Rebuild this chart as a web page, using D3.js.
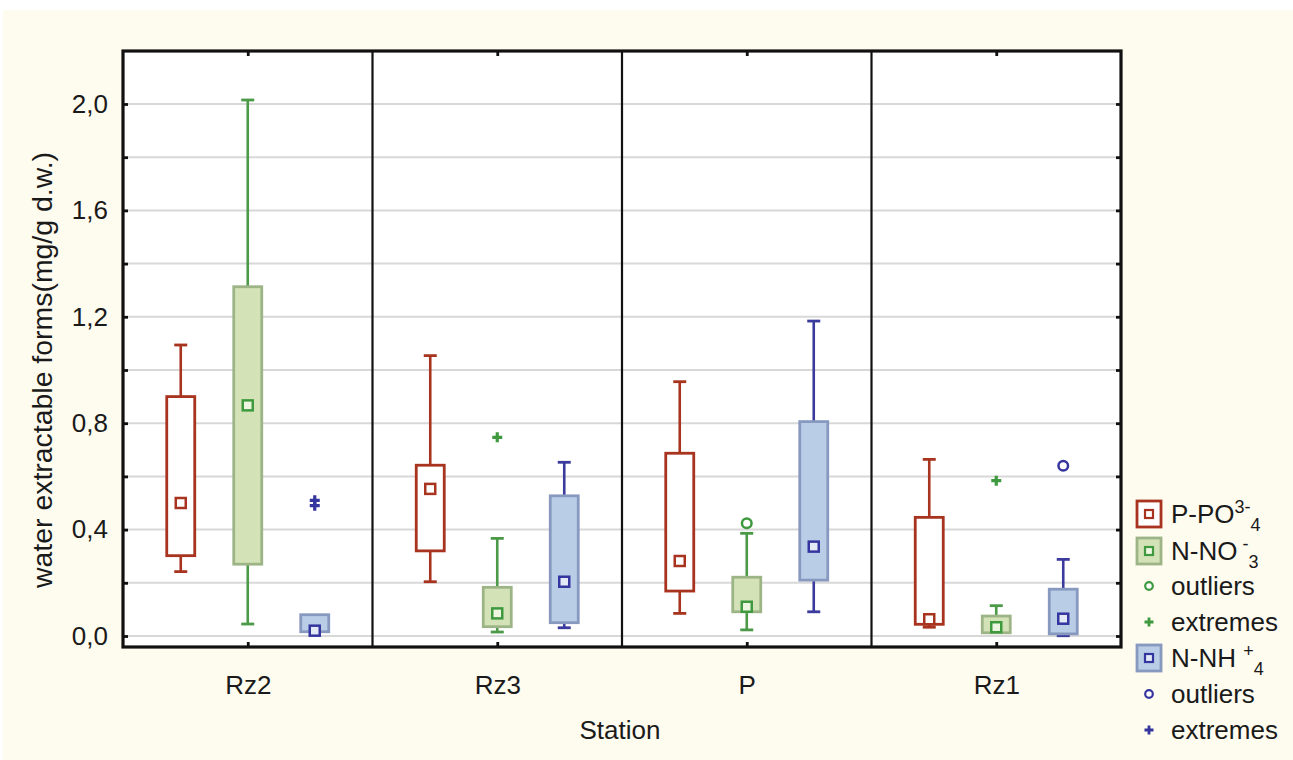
<!DOCTYPE html>
<html>
<head>
<meta charset="utf-8">
<script src="https://cdn.jsdelivr.net/npm/d3@7/dist/d3.min.js"></script>
<style>
  html, body { margin: 0; padding: 0; background: #ffffff; }
  svg { display: block; }
  text { font-family: "Liberation Sans", Arial, Helvetica, sans-serif; fill: #1a1a1a; }
</style>
</head>
<body>
<svg id="chart" width="1293" height="760"></svg>
<script>
// ---------------- data ----------------
const categories = ["Rz2", "Rz3", "P", "Rz1"];
const seriesNames = ["P-PO4", "N-NO3", "N-NH4"];
const yTickValues = [0, 0.2, 0.4, 0.6, 0.8, 1.0, 1.2, 1.4, 1.6, 1.8, 2.0];
const yLabelValues = [0, 0.4, 0.8, 1.2, 1.6, 2.0];

const po4Min    = [0.242, 0.204, 0.085, 0.033];
const po4Q1     = [0.302, 0.320, 0.169, 0.044];
const po4Median = [0.500, 0.553, 0.282, 0.063];
const po4Q3     = [0.900, 0.642, 0.687, 0.446];
const po4Max    = [1.094, 1.054, 0.956, 0.664];
const po4Outliers = [[], [], [], []];
const po4Extremes = [[], [], [], []];

const no3Min    = [0.045, 0.015, 0.023, 0.012];
const no3Q1     = [0.270, 0.035, 0.091, 0.012];
const no3Median = [0.867, 0.085, 0.110, 0.033];
const no3Q3     = [1.313, 0.183, 0.221, 0.075];
const no3Max    = [2.015, 0.367, 0.386, 0.114];
const no3Outliers = [[], [], [0.424], []];
const no3Extremes = [[], [0.747], [], [0.584]];

const nh4Min    = [0.016, 0.031, 0.091, 0.001];
const nh4Q1     = [0.016, 0.050, 0.210, 0.008];
const nh4Median = [0.020, 0.204, 0.336, 0.065];
const nh4Q3     = [0.080, 0.527, 0.806, 0.176];
const nh4Max    = [0.080, 0.653, 1.184, 0.288];
const nh4Outliers = [[], [], [], [0.640]];
const nh4Extremes = [[0.510, 0.490], [], [], []];

// ---------------- styles ----------------
const styles = [
  { boxFill: "#ffffff", boxStroke: "#a8331f", whisker: "#a8331f", mark: "#a8331f", markFill: "#ffffff" },
  { boxFill: "#d4e3b7", boxStroke: "#9db487", whisker: "#4b9a47", mark: "#3f9a3f", markFill: "#eef6e2" },
  { boxFill: "#b9cde6", boxStroke: "#8799bf", whisker: "#3b3b9d", mark: "#35359f", markFill: "#e3eaf6" }
];

const series = [
  { min: po4Min, q1: po4Q1, med: po4Median, q3: po4Q3, max: po4Max, out: po4Outliers, ext: po4Extremes },
  { min: no3Min, q1: no3Q1, med: no3Median, q3: no3Q3, max: no3Max, out: no3Outliers, ext: no3Extremes },
  { min: nh4Min, q1: nh4Q1, med: nh4Median, q3: nh4Q3, max: nh4Max, out: nh4Outliers, ext: nh4Extremes }
];

// ---------------- layout ----------------
const svg = d3.select("#chart");
const W = 1293, H = 760;
const plot = { left: 123, right: 1121, top: 51, bottom: 647 };
const FS = 26;

svg.append("rect").attr("x", 3).attr("y", 10).attr("width", W - 3).attr("height", H - 10).attr("fill", "#fefbef");

const x = d3.scaleBand().domain(categories).range([plot.left, plot.right]).padding(0);
const sub = d3.scalePoint().domain(seriesNames).range([-67, 67]);
const y = d3.scaleLinear().domain([-0.04135, 2.1992]).range([plot.bottom, plot.top]);
const boxW = 28;
const capW = 13;

svg.append("rect").attr("x", plot.left).attr("y", plot.top)
  .attr("width", plot.right - plot.left).attr("height", plot.bottom - plot.top).attr("fill", "#ffffff");

// gridlines
svg.append("g").selectAll("line").data(yTickValues).join("line")
  .attr("x1", plot.left).attr("x2", plot.right)
  .attr("y1", d => y(d)).attr("y2", d => y(d))
  .attr("stroke", "#d8d8d8").attr("stroke-width", 2);

// separators
svg.append("g").selectAll("line").data(categories.slice(1)).join("line")
  .attr("x1", d => x(d)).attr("x2", d => x(d))
  .attr("y1", plot.top).attr("y2", plot.bottom)
  .attr("stroke", "#111").attr("stroke-width", 2.2);

// boxes
const fmt = v => d3.format(".1f")(v).replace(".", ",");
series.forEach((s, si) => {
  const st = styles[si];
  const g = svg.append("g");
  categories.forEach((c, ci) => {
    const cx = x(c) + x.bandwidth() / 2 + sub(seriesNames[si]);
    // whiskers
    if (s.max[ci] > s.q3[ci]) {
      g.append("line").attr("x1", cx).attr("x2", cx).attr("y1", y(s.q3[ci])).attr("y2", y(s.max[ci]))
        .attr("stroke", st.whisker).attr("stroke-width", 2.6);
      g.append("line").attr("x1", cx - capW / 2).attr("x2", cx + capW / 2).attr("y1", y(s.max[ci])).attr("y2", y(s.max[ci]))
        .attr("stroke", st.whisker).attr("stroke-width", 2.8);
    }
    if (s.min[ci] < s.q1[ci]) {
      g.append("line").attr("x1", cx).attr("x2", cx).attr("y1", y(s.q1[ci])).attr("y2", y(s.min[ci]))
        .attr("stroke", st.whisker).attr("stroke-width", 2.6);
      g.append("line").attr("x1", cx - capW / 2).attr("x2", cx + capW / 2).attr("y1", y(s.min[ci])).attr("y2", y(s.min[ci]))
        .attr("stroke", st.whisker).attr("stroke-width", 2.8);
    }
    // box
    g.append("rect").attr("x", cx - boxW / 2).attr("width", boxW)
      .attr("y", y(s.q3[ci])).attr("height", Math.max(1, y(s.q1[ci]) - y(s.q3[ci])))
      .attr("fill", st.boxFill).attr("stroke", st.boxStroke).attr("stroke-width", 2.8);
    // median marker
    g.append("rect").attr("x", cx - 5).attr("y", y(s.med[ci]) - 5).attr("width", 10).attr("height", 10)
      .attr("fill", st.markFill).attr("stroke", st.mark).attr("stroke-width", 2.5);
    // outliers
    s.out[ci].forEach(v => {
      g.append("circle").attr("cx", cx).attr("cy", y(v)).attr("r", 4.8)
        .attr("fill", "#fff").attr("stroke", st.mark).attr("stroke-width", 2.5);
    });
    // extremes
    s.ext[ci].forEach(v => {
      g.append("path").attr("d", `M${cx - 5},${y(v)}h10M${cx},${y(v) - 5}v10`)
        .attr("stroke", st.mark).attr("stroke-width", 3.2);
    });
  });
});

// axes (inward ticks)
const leftAxis = d3.axisLeft(y).tickValues(yTickValues).tickSize(-5).tickPadding(15)
  .tickFormat(d => yLabelValues.some(v => Math.abs(v - d) < 1e-9) ? fmt(d) : "");
const gl = svg.append("g").attr("transform", `translate(${plot.left},0)`).call(leftAxis);
gl.select(".domain").remove();
gl.selectAll(".tick line").attr("stroke", "#111").attr("stroke-width", 2.8);
gl.selectAll("text").attr("font-size", FS).attr("fill", "#1a1a1a").attr("font-family", "Liberation Sans, Arial, sans-serif");

const rightAxis = d3.axisRight(y).tickValues(yTickValues).tickSize(-5).tickFormat("");
const gr = svg.append("g").attr("transform", `translate(${plot.right},0)`).call(rightAxis);
gr.select(".domain").remove();
gr.selectAll(".tick line").attr("stroke", "#111").attr("stroke-width", 2.8);

const xc = d3.scalePoint().domain(categories).range([plot.left + x.bandwidth() / 2, plot.right - x.bandwidth() / 2]);
const bottomAxis = d3.axisBottom(xc).tickSize(-5).tickPadding(29);
const gb = svg.append("g").attr("transform", `translate(0,${plot.bottom})`).call(bottomAxis);
gb.select(".domain").remove();
gb.selectAll(".tick line").attr("stroke", "#111").attr("stroke-width", 2.8);
gb.selectAll("text").attr("font-size", FS).attr("fill", "#1a1a1a").attr("font-family", "Liberation Sans, Arial, sans-serif");

const topAxis = d3.axisTop(xc).tickSize(-5).tickFormat("");
const gt = svg.append("g").attr("transform", `translate(0,${plot.top})`).call(topAxis);
gt.select(".domain").remove();
gt.selectAll(".tick line").attr("stroke", "#111").attr("stroke-width", 2.8);

// frame
svg.append("rect").attr("x", plot.left).attr("y", plot.top)
  .attr("width", plot.right - plot.left).attr("height", plot.bottom - plot.top)
  .attr("fill", "none").attr("stroke", "#111").attr("stroke-width", 3.2);

// axis titles
svg.append("text").attr("x", 620).attr("y", 739).attr("text-anchor", "middle")
  .attr("font-size", FS).text("Station");
svg.append("text").attr("transform", "translate(52,370) rotate(-90)").attr("text-anchor", "middle")
  .attr("font-size", 27).attr("textLength", 436).attr("lengthAdjust", "spacingAndGlyphs")
  .text("water extractable forms(mg/g d.w.)");

// legend
const legX = 1149, legTextX = 1171;
const legend = svg.append("g");
function legendText(yy, base, sup, subs) {
  const t = legend.append("text").attr("x", legTextX).attr("y", yy + 9).attr("font-size", FS);
  t.append("tspan").text(base);
  if (sup) t.append("tspan").attr("dy", -10).attr("font-size", 18).text(sup);
  if (subs) t.append("tspan").attr("dy", sup ? 18 : 7).attr("font-size", 18).text(subs);
}
function legendBox(yy, st) {
  legend.append("rect").attr("x", legX - 12).attr("y", yy - 13).attr("width", 24).attr("height", 26)
    .attr("fill", st.boxFill).attr("stroke", st.boxStroke).attr("stroke-width", 2.8);
  legend.append("rect").attr("x", legX - 4).attr("y", yy - 4).attr("width", 8).attr("height", 8)
    .attr("fill", st.markFill).attr("stroke", st.mark).attr("stroke-width", 2.2);
}
function legendOut(yy, st) {
  legend.append("circle").attr("cx", legX).attr("cy", yy).attr("r", 3.8)
    .attr("fill", "#fff").attr("stroke", st.mark).attr("stroke-width", 2.2);
}
function legendExt(yy, st) {
  legend.append("path").attr("d", `M${legX - 4.5},${yy}h9M${legX},${yy - 4.5}v9`)
    .attr("stroke", st.mark).attr("stroke-width", 2.8);
}
legendBox(514, styles[0]); legendText(514, "P-PO", "3-", "4");
legendBox(551, styles[1]); legendText(551, "N-NO", " -", "3");
legendOut(586, styles[1]); legendText(586, "outliers");
legendExt(622, styles[1]); legendText(622, "extremes");
legendBox(658, styles[2]); legendText(658, "N-NH ", "+", "4");
legendOut(694, styles[2]); legendText(694, "outliers");
legendExt(730, styles[2]); legendText(730, "extremes");
</script>
</body>
</html>
